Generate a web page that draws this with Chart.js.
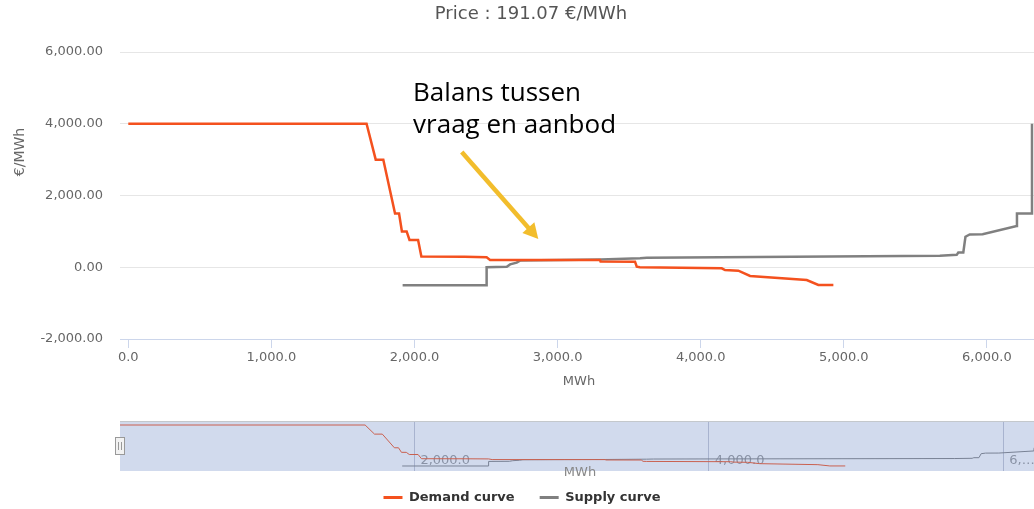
<!DOCTYPE html>
<html>
<head>
<meta charset="utf-8">
<script src="https://cdn.jsdelivr.net/npm/chart.js@4.4.1/dist/chart.umd.min.js"></script>
<style>
  html, body { margin: 0; padding: 0; background: #fff; }
  body { width: 1034px; height: 509px; overflow: hidden; position: relative; }
  #main { position: absolute; left: 0; top: 0; }
  #nav { position: absolute; left: 0; top: 400px; }
</style>
</head>
<body>
<canvas id="main" width="1038" height="400"></canvas>
<canvas id="nav" width="1044" height="119"></canvas>
<script>
// Demand and supply curve of one auction hour
const priceTitle = 'Price : 191.07 €/MWh';
const seriesNames = ['Demand curve', 'Supply curve'];
const seriesColors = ['#f4511e', '#808080'];

const demandMWh   = [0, 1665, 1729, 1782, 1864, 1892, 1912, 1945, 1965, 2025, 2048, 2350, 2504, 2528, 3296, 3300, 3541, 3553, 3575, 4147, 4170, 4263, 4345, 4741, 4822, 4927];
const demandPrice = [4000, 4000, 3000, 3000, 1500, 1500, 1000, 1000, 760, 760, 300, 290, 277, 205, 200, 160, 155, 15, 0, -30, -77, -96, -244, -355, -495, -495];

const supplyMWh   = [1917, 2504, 2504, 2645, 2668, 2714, 2737, 3017, 3300, 3576, 3623, 5671, 5789, 5800, 5835, 5850, 5880, 5970, 6208, 6210, 6310, 6315];
const supplyPrice = [-500, -500, 0, 15, 80, 130, 185, 200, 215, 250, 265, 320, 345, 410, 410, 850, 915, 920, 1150, 1500, 1500, 4000];

const xTicks = [0, 1000, 2000, 3000, 4000, 5000, 6000];
const yTicks = [-2000, 0, 2000, 4000, 6000];
const navTicks = [2000, 4000, 6000];

// callout, anchored in data units
const annotationLines = ['Balans tussen', 'vraag en aanbod'];
const annotationAt = [1990, 4640];
const arrowFrom = [2330, 3210];
const arrowTo = [2865, 790];

const FONT = '"DejaVu Sans", sans-serif';
const ARROW = '#f2bd2c';

const zip = (xs, ys) => xs.map((x, i) => ({ x: x, y: ys[i] }));
const fmt = (v, d) => v.toLocaleString('en-US', { minimumFractionDigits: d, maximumFractionDigits: d });

const mainExtras = {
  id: 'mainExtras',
  afterDraw(chart) {
    const { ctx, scales: { x, y } } = chart;

    // y axis title
    ctx.save();
    ctx.translate(20, 152);
    ctx.rotate(-Math.PI / 2);
    ctx.fillStyle = '#666';
    ctx.font = '14px ' + FONT;
    ctx.textAlign = 'center';
    ctx.textBaseline = 'middle';
    ctx.fillText('€/MWh', 0, 0);
    ctx.restore();

    // arrow
    const x0 = x.getPixelForValue(arrowFrom[0]), y0 = y.getPixelForValue(arrowFrom[1]);
    const x1 = x.getPixelForValue(arrowTo[0]), y1 = y.getPixelForValue(arrowTo[1]);
    const ang = Math.atan2(y1 - y0, x1 - x0);
    const head = 15, half = 8;
    const bx = x1 - head * Math.cos(ang), by = y1 - head * Math.sin(ang);
    ctx.save();
    ctx.strokeStyle = ARROW;
    ctx.fillStyle = ARROW;
    ctx.lineWidth = 4.5;
    ctx.beginPath();
    ctx.moveTo(x0, y0);
    ctx.lineTo(bx + Math.cos(ang), by + Math.sin(ang));
    ctx.stroke();
    ctx.beginPath();
    ctx.moveTo(x1, y1);
    ctx.lineTo(bx + half * Math.sin(ang), by - half * Math.cos(ang));
    ctx.lineTo(bx - half * Math.sin(ang), by + half * Math.cos(ang));
    ctx.closePath();
    ctx.fill();

    // callout text
    ctx.fillStyle = '#000';
    ctx.font = '26px "Open Sans", sans-serif';
    ctx.textAlign = 'left';
    ctx.textBaseline = 'alphabetic';
    const tx = x.getPixelForValue(annotationAt[0]), ty = y.getPixelForValue(annotationAt[1]);
    annotationLines.forEach((line, i) => ctx.fillText(line, tx, ty + i * 32));
    ctx.restore();
  }
};

// shorten a label with an ellipsis when it runs past the visible edge
function fitText(ctx, text, maxW) {
  if (ctx.measureText(text).width <= maxW) return text;
  let t = text;
  while (t.length > 1 && ctx.measureText(t + '…').width > maxW) t = t.slice(0, -1);
  return t + '…';
}

const navExtras = {
  id: 'navExtras',
  beforeDatasetsDraw(chart) {
    const { ctx, chartArea, scales: { x } } = chart;
    ctx.save();
    ctx.fillStyle = '#999';
    ctx.font = '13px ' + FONT;
    ctx.textAlign = 'left';
    ctx.textBaseline = 'middle';
    navTicks.forEach(v => {
      const px = x.getPixelForValue(v) + 6;
      ctx.fillText(fitText(ctx, fmt(v, 1), 1036 - px), px, chartArea.bottom - 10);
    });
    ctx.restore();
  },
  afterDatasetsDraw(chart) {
    const { ctx, chartArea: a } = chart;
    ctx.save();
    // selected range mask (whole range)
    ctx.fillStyle = 'rgba(102,133,194,0.3)';
    ctx.fillRect(a.left, a.top, a.right - a.left, a.bottom - a.top);
    // outline
    ctx.strokeStyle = '#c4c8cc';
    ctx.lineWidth = 1;
    ctx.beginPath();
    ctx.moveTo(a.left, a.top + 0.5);
    ctx.lineTo(a.right, a.top + 0.5);
    ctx.stroke();
    // left handle
    const mid = Math.round((a.top + a.bottom) / 2);
    ctx.fillStyle = '#f2f2f2';
    ctx.strokeStyle = '#999';
    ctx.fillRect(a.left - 5, mid - 9, 10, 18);
    ctx.strokeRect(a.left - 4.5, mid - 8.5, 9, 17);
    ctx.beginPath();
    ctx.moveTo(a.left - 1.5, mid - 4);
    ctx.lineTo(a.left - 1.5, mid + 4);
    ctx.moveTo(a.left + 1.5, mid - 4);
    ctx.lineTo(a.left + 1.5, mid + 4);
    ctx.stroke();
    ctx.restore();
  },
  afterDraw(chart) {
    const { ctx, chartArea: a } = chart;
    ctx.save();
    ctx.fillStyle = '#888';
    ctx.font = '13px ' + FONT;
    ctx.textAlign = 'center';
    ctx.textBaseline = 'middle';
    ctx.fillText('MWh', a.left + 460, a.bottom + 2);
    ctx.restore();
  }
};

new Chart(document.getElementById('main'), {
  type: 'line',
  data: {
    datasets: [
      { label: seriesNames[0], data: zip(demandMWh, demandPrice), borderColor: seriesColors[0], borderWidth: 2.5, pointRadius: 0, tension: 0, fill: false },
      { label: seriesNames[1], data: zip(supplyMWh, supplyPrice), borderColor: seriesColors[1], borderWidth: 2.5, pointRadius: 0, tension: 0, fill: false }
    ]
  },
  options: {
    responsive: false,
    animation: false,
    events: [],
    layout: { padding: { left: 24, right: 0, top: 0, bottom: 0 } },
    plugins: {
      legend: { display: false },
      tooltip: { enabled: false },
      title: {
        display: true,
        text: priceTitle,
        color: '#555',
        font: { family: FONT, size: 18, weight: 'normal' },
        padding: { top: 4, bottom: 26.4 }
      }
    },
    scales: {
      x: {
        type: 'linear',
        min: -58,
        max: 6357,
        afterBuildTicks: s => { s.ticks = xTicks.map(v => ({ value: v })); },
        afterFit: s => { s.height = 61; },
        ticks: { color: '#666', font: { family: FONT, size: 13 }, padding: 2, maxRotation: 0, autoSkip: false, callback: v => fmt(v, 1) },
        grid: { drawOnChartArea: false, drawTicks: true, tickLength: 9, color: '#ccd6eb' },
        border: { display: true, color: '#ccd6eb' },
        title: { display: true, text: 'MWh', color: '#666', font: { family: FONT, size: 13 }, padding: { top: 0, bottom: 11 } }
      },
      y: {
        min: -2000,
        max: 6000,
        afterBuildTicks: s => { s.ticks = yTicks.map(v => ({ value: v })); },
        afterFit: s => { s.width = 96; },
        ticks: { color: '#666', font: { family: FONT, size: 13 }, padding: 17, callback: v => fmt(v, 2) },
        grid: { color: '#e6e6e6', drawTicks: false },
        border: { display: false }
      }
    }
  },
  plugins: [mainExtras]
});

new Chart(document.getElementById('nav'), {
  type: 'line',
  data: {
    datasets: [
      { label: seriesNames[0], data: zip(demandMWh, demandPrice), borderColor: seriesColors[0], backgroundColor: seriesColors[0], borderWidth: 1, pointRadius: 0, pointStyle: 'line', tension: 0, fill: false },
      { label: seriesNames[1], data: zip(supplyMWh, supplyPrice), borderColor: seriesColors[1], backgroundColor: seriesColors[1], borderWidth: 1, pointRadius: 0, pointStyle: 'line', tension: 0, fill: false }
    ]
  },
  options: {
    responsive: false,
    animation: false,
    events: [],
    layout: { padding: { left: 0, right: 0, top: 21, bottom: 0 } },
    plugins: {
      tooltip: { enabled: false },
      legend: {
        position: 'bottom',
        labels: {
          usePointStyle: true,
          pointStyleWidth: 19,
          padding: 25,
          color: '#333',
          font: { family: FONT, size: 13, weight: 'bold' },
          generateLabels: chart => Chart.defaults.plugins.legend.labels.generateLabels(chart)
            .map(item => Object.assign(item, { lineWidth: 3 }))
        }
      }
    },
    scales: {
      x: {
        type: 'linear',
        min: 0,
        max: 6277,
        afterBuildTicks: s => { s.ticks = navTicks.map(v => ({ value: v })); },
        afterFit: s => { s.height = -5; },
        ticks: { display: false },
        grid: { color: '#c4c8d4', drawTicks: false },
        border: { display: false }
      },
      y: {
        min: -1050,
        max: 4440,
        afterFit: s => { s.width = 120; },
        ticks: { display: false },
        grid: { display: false },
        border: { display: false }
      }
    }
  },
  plugins: [navExtras]
});
</script>
</body>
</html>
